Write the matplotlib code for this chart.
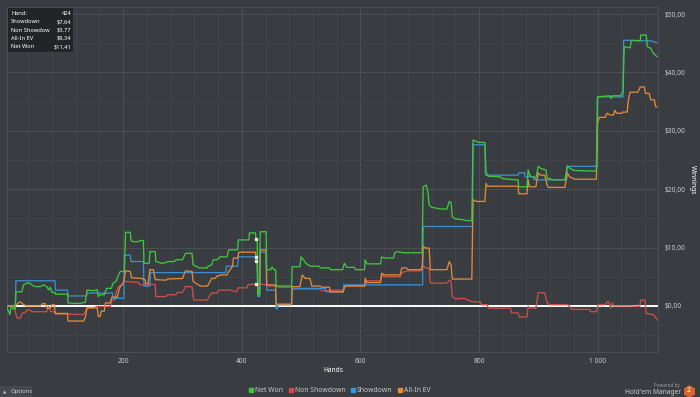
import matplotlib
matplotlib.use("Agg")
import matplotlib.pyplot as plt
from matplotlib.lines import Line2D
from matplotlib.patches import Rectangle
from matplotlib.ticker import MultipleLocator, FixedLocator

# ---------------- data (hand, value) ----------------
net_won_hands = [1, 4, 7, 9, 11, 14, 18, 19, 29, 32, 38, 43, 47, 52, 60, 66, 72, 74, 77, 80, 85, 86, 106, 107,
                 125, 136, 139, 150, 156, 158, 160, 168, 172, 180, 183, 188, 192, 195, 202, 204, 212, 213, 216,
                 226, 228, 234, 235, 244, 245, 254, 255, 265, 272, 275, 286, 289, 300, 305, 316, 318, 325, 328,
                 342, 343, 349, 352, 358, 361, 363, 375, 378, 393, 394, 412, 413, 423, 424, 426, 427, 430, 431,
                 441, 442, 449, 450, 452, 454, 457, 458, 484, 485, 498, 500, 504, 508, 515, 530, 533, 548, 550,
                 570, 573, 577, 590, 592, 607, 608, 611, 634, 636, 640, 656, 658, 663, 668, 672, 704, 706, 711,
                 714, 716, 720, 735, 746, 750, 753, 755, 760, 770, 780, 788, 790, 800, 810, 812, 816, 836, 840,
                 860, 866, 867, 881, 883, 886, 896, 900, 905, 913, 915, 925, 945, 949, 953, 960, 991, 998, 1000,
                 1021, 1023, 1025, 1039, 1043, 1045, 1055, 1057, 1072, 1073, 1082, 1084, 1090, 1094, 1100]
net_won_vals = [0.0, -0.3, -1.0, -1.5, -0.1, -0.5, -0.5, 2.4, 2.4, 3.6, 3.9, 3.9, 3.5, 3.3, 3.3, 3.6, 3.2, 2.7,
                3.2, 2.3, 2.3, 2.0, 2.0, 0.5, 0.4, 0.6, 2.7, 2.6, 2.8, 1.6, 1.9, 1.9, 3.0, 3.0, 3.9, 4.2, 5.3,
                5.9, 5.9, 12.6, 12.6, 11.3, 11.0, 11.0, 11.2, 11.2, 7.3, 7.3, 9.3, 9.3, 7.6, 7.3, 7.4, 7.6, 7.6,
                7.9, 7.9, 9.0, 9.0, 7.0, 6.7, 6.5, 6.5, 6.8, 7.0, 7.9, 7.9, 8.1, 8.4, 8.4, 9.6, 9.6, 11.3, 11.3,
                12.5, 12.5, 11.41, 11.41, 1.9, 1.9, 12.7, 12.7, 6.2, 6.2, 6.6, 6.6, 6.2, 6.2, 3.4, 3.4, 6.7, 6.7,
                8.4, 7.9, 7.3, 6.8, 6.8, 6.5, 6.5, 6.2, 6.2, 7.3, 6.6, 6.6, 6.2, 6.2, 7.9, 7.2, 7.2, 8.4, 8.2,
                8.2, 9.1, 9.3, 9.2, 9.1, 9.1, 20.4, 20.7, 19.5, 17.3, 16.9, 16.6, 16.6, 17.9, 17.7, 15.3, 14.9,
                14.8, 14.6, 14.6, 28.4, 28.0, 28.0, 22.8, 22.2, 22.1, 21.8, 21.6, 21.6, 20.4, 20.4, 23.3, 22.3,
                21.9, 23.9, 23.5, 23.3, 21.9, 21.6, 21.6, 24.0, 23.6, 23.2, 23.1, 23.1, 35.8, 36.0, 35.5, 36.0,
                36.0, 36.7, 44.4, 44.2, 45.5, 45.4, 46.4, 46.4, 44.4, 44.1, 43.3, 42.7]

showdown_hands = [1, 18, 19, 85, 86, 106, 107, 138, 139, 182, 183, 201, 202, 212, 213, 234, 235, 245, 246, 373,
                  374, 393, 394, 423, 424, 426, 427, 430, 431, 441, 442, 457, 458, 460, 461, 484, 485, 541, 542,
                  571, 572, 705, 706, 789, 790, 810, 811, 866, 867, 877, 878, 892, 893, 948, 949, 999, 1000,
                  1043, 1044, 1090, 1100]
showdown_vals = [0.0, 0.0, 4.3, 4.3, 2.7, 2.7, 1.7, 1.7, 2.2, 2.2, 1.3, 1.3, 8.7, 8.7, 7.6, 7.6, 3.4, 3.4, 5.7,
                 5.7, 6.8, 6.8, 8.4, 8.4, 7.64, 7.64, 1.6, 1.6, 9.2, 9.2, 2.7, 2.7, -0.5, -0.5, 0.2, 0.2, 3.0,
                 3.0, 2.4, 2.4, 3.6, 3.6, 13.6, 13.6, 27.6, 27.6, 22.4, 22.4, 22.8, 22.8, 22.1, 22.1, 21.6, 21.6,
                 23.9, 23.9, 35.8, 35.8, 45.5, 45.4, 45.1]

non_showdown_hands = [1, 15, 17, 21, 26, 30, 34, 38, 43, 46, 71, 74, 78, 85, 86, 107, 133, 136, 139, 150, 155,
                      178, 181, 186, 188, 192, 198, 202, 226, 228, 237, 240, 242, 254, 255, 272, 275, 289, 291,
                      300, 305, 316, 318, 319, 342, 345, 349, 358, 361, 380, 391, 394, 409, 410, 424, 443, 445,
                      460, 462, 485, 487, 532, 534, 549, 551, 571, 574, 578, 608, 610, 634, 636, 640, 667, 670,
                      680, 701, 705, 710, 716, 718, 746, 750, 753, 755, 760, 775, 780, 790, 802, 804, 814, 816,
                      853, 855, 866, 868, 881, 883, 886, 896, 900, 911, 915, 920, 950, 957, 987, 988, 998, 1001,
                      1013, 1016, 1019, 1022, 1025, 1027, 1055, 1071, 1073, 1080, 1082, 1094, 1097, 1100]
non_showdown_vals = [0.0, 0.0, -0.6, -2.1, -2.1, -1.2, -1.2, -0.7, -0.7, -1.0, -1.0, -0.1, -1.0, -1.0, -1.4,
                     -1.4, -1.5, -1.0, -0.4, -0.4, -0.1, -0.1, 1.0, 1.0, 2.3, 3.3, 3.6, 4.2, 4.0, 3.6, 3.6, 3.3,
                     3.7, 3.7, 1.6, 1.6, 1.9, 1.9, 2.3, 2.3, 3.3, 3.3, 1.6, 1.0, 1.0, 1.6, 2.2, 2.2, 2.7, 2.7,
                     2.4, 3.1, 3.1, 3.6, 3.77, 3.6, 3.4, 3.4, 3.2, 3.2, 2.9, 2.9, 2.6, 2.6, 2.7, 2.7, 3.3, 3.4,
                     3.4, 4.3, 4.3, 5.3, 5.0, 5.0, 5.7, 6.0, 6.0, 7.0, 6.5, 6.5, 3.9, 3.9, 4.4, 4.2, 1.6, 1.2,
                     1.3, 1.0, 0.7, 0.7, 0.2, 0.2, -0.4, -0.4, -1.2, -1.2, -1.9, -1.9, -0.1, -0.4, -0.4, 2.3,
                     2.2, 0.5, 0.2, 0.2, -0.6, -0.6, -1.0, -1.0, 0.2, 0.2, 0.7, 0.7, -0.4, 0.5, 0.0, 0.0, -0.1,
                     1.0, 1.0, -1.3, -1.5, -1.8, -2.4]

allin_ev_hands = [1, 18, 21, 26, 29, 32, 38, 60, 64, 68, 72, 77, 80, 84, 85, 106, 107, 133, 136, 139, 156, 158,
                  161, 163, 168, 170, 178, 181, 190, 192, 195, 200, 204, 212, 214, 232, 234, 237, 238, 242, 245,
                  251, 254, 272, 275, 300, 305, 316, 318, 322, 330, 342, 345, 349, 355, 358, 366, 375, 378, 384,
                  386, 393, 395, 423, 424, 426, 427, 430, 431, 441, 442, 457, 458, 484, 485, 498, 502, 507, 515,
                  518, 532, 535, 548, 549, 571, 574, 607, 608, 611, 634, 636, 640, 667, 670, 678, 680, 704, 706,
                  710, 716, 718, 746, 750, 753, 755, 788, 790, 795, 810, 812, 814, 866, 867, 881, 883, 885, 896,
                  900, 903, 911, 915, 917, 945, 949, 953, 962, 998, 1000, 1003, 1013, 1016, 1021, 1027, 1029,
                  1032, 1041, 1043, 1050, 1052, 1055, 1068, 1072, 1079, 1081, 1087, 1090, 1096, 1098, 1100]
allin_ev_vals = [0.0, 0.0, 0.3, 0.7, 0.5, 0.2, 0.0, 0.0, 0.4, 0.4, -0.4, -0.4, 0.2, 0.2, -1.3, -1.3, -2.6, -2.6,
                 -2.0, -0.3, -0.3, -1.8, -1.8, -0.9, -0.9, 0.5, 0.5, 1.5, 1.5, 2.4, 3.3, 3.9, 6.0, 5.9, 4.8, 4.7,
                 4.5, 4.5, 3.8, 3.8, 6.2, 6.2, 4.5, 4.4, 4.6, 4.7, 6.0, 5.9, 4.2, 3.9, 3.4, 3.4, 3.9, 4.7, 4.7,
                 5.1, 5.3, 5.3, 5.9, 6.7, 8.2, 8.2, 9.2, 9.2, 8.34, 8.34, 2.2, 2.2, 9.6, 9.6, 3.6, 3.6, 0.3, 0.3,
                 3.3, 3.3, 5.3, 4.7, 4.7, 3.4, 3.4, 3.2, 3.2, 2.4, 2.4, 3.4, 3.4, 4.7, 4.0, 4.0, 5.6, 5.3, 5.3,
                 6.5, 6.5, 6.2, 6.2, 10.2, 9.9, 9.9, 6.2, 6.2, 7.6, 7.0, 4.6, 4.6, 18.2, 17.9, 17.9, 21.0, 20.5,
                 20.5, 19.2, 19.2, 21.6, 20.4, 20.4, 22.8, 22.4, 22.4, 20.7, 20.3, 20.3, 22.8, 22.1, 21.7, 21.7,
                 31.3, 32.3, 32.3, 33.0, 32.7, 32.7, 33.5, 33.0, 33.0, 33.2, 33.2, 35.3, 36.6, 36.6, 37.5, 37.5,
                 36.4, 36.4, 35.3, 35.3, 34.1, 34.1]

series_names = ["Net Won", "Non Showdown", "Showdown", "All-In EV"]
x_ticks = [200, 400, 600, 800, 1000]
x_tick_labels = ["200", "400", "600", "800", "1 000"]
y_ticks = [0, 10, 20, 30, 40, 50]
y_tick_labels = ["$0,00", "$10,00", "$20,00", "$30,00", "$40,00", "$50,00"]

hover_hand = 424
hover_labels = ["Hand:", "Showdown", "Non Showdow", "All-In EV", "Net Won"]
hover_values = ["424", "$7,64", "$3,77", "$8,34", "$11,41"]
hover_points = [11.41, 7.64, 3.77, 8.34]

# ---------------- style ----------------
BG = "#393c40"
GRID_MINOR = "#414448"
GRID_MAJOR = "#4b4f53"
TXT = "#c9cbcd"
C_NET = "#3fc63f"
C_NSD = "#c9504b"
C_SD = "#3a8ed0"
C_EV = "#e08a3a"
FONT = ["Noto Sans", "DejaVu Sans"]

plt.rcParams["font.family"] = FONT
W, H = 700, 397
fig = plt.figure(figsize=(W / 100, H / 100), dpi=100, facecolor=BG)
L, R, T, B = 7, 658, 7, 352
ax = fig.add_axes([L / W, 1 - B / H, (R - L) / W, (B - T) / H], facecolor=BG)

ax.set_xlim(4, 1102)
ax.set_ylim(-7.9, 51.2)

ax.xaxis.set_major_locator(FixedLocator(x_ticks))
ax.xaxis.set_minor_locator(MultipleLocator(40))
ax.yaxis.set_major_locator(FixedLocator(y_ticks))
ax.yaxis.set_minor_locator(MultipleLocator(5))
ax.grid(which="minor", color=GRID_MINOR, lw=0.7)
ax.grid(which="major", color=GRID_MAJOR, lw=0.8)
ax.set_axisbelow(True)
ax.set_xticklabels(x_tick_labels)
ax.yaxis.tick_right()
ax.set_yticklabels(y_tick_labels)
ax.tick_params(which="both", length=0, colors=TXT, labelsize=4.8)
ax.tick_params(axis="x", pad=4)
ax.tick_params(axis="y", pad=5)
for s in ax.spines.values():
    s.set_color(GRID_MAJOR)
    s.set_linewidth(0.8)

ax.axhline(0, color="white", lw=1.4, zorder=2)

lw = 0.95
ax.plot(non_showdown_hands, non_showdown_vals, color=C_NSD, lw=lw, zorder=3)
ax.plot(showdown_hands, showdown_vals, color=C_SD, lw=lw, zorder=4)
ax.plot(allin_ev_hands, allin_ev_vals, color=C_EV, lw=lw, zorder=5)
ax.plot(net_won_hands, net_won_vals, color=C_NET, lw=lw, zorder=6)

ax.plot([hover_hand] * len(hover_points), hover_points, ls="none", marker="s", ms=1.8,
        color="#e8e8e8", zorder=7)

# axis titles
fig.text(333 / W, 1 - 371 / H, "Hands", color="white", fontsize=4.8, fontweight="bold",
         ha="center", va="center")
fig.text(692 / W, 1 - 180 / H, "Winnings", color="white", fontsize=4.8, fontweight="bold",
         ha="center", va="center", rotation=-90)

# legend
handles = [Line2D([], [], ls="none", marker="s", ms=2.6, color=c) for c in (C_NET, "#e04848", "#3399dd", "#ee8833")]
fig.legend(handles, series_names, loc="center", bbox_to_anchor=(340 / W, 1 - 391 / H), ncol=4,
           frameon=False, fontsize=4.9, labelcolor=TXT, handlelength=0.6, handletextpad=0.3,
           columnspacing=0.8, borderpad=0)

# hover tooltip
fig.patches.append(Rectangle((8 / W, 1 - 52 / H), 65 / W, 44 / H, transform=fig.transFigure,
                             facecolor="#222528", edgecolor="none", zorder=10))
for i, (lab, val) in enumerate(zip(hover_labels, hover_values)):
    yy = 1 - (13.5 + i * 8.3) / H
    fig.text(11 / W, yy, lab, color="white", fontsize=4.1, fontweight="bold", ha="left", va="center", zorder=11)
    fig.text(71.5 / W, yy, val, color="white", fontsize=4.1, fontweight="bold", ha="right", va="center", zorder=11)

# options button
fig.patches.append(Rectangle((0, 0), 32 / W, 11 / H, transform=fig.transFigure,
                             facecolor="#45494d", edgecolor="none"))
fig.text(3 / W, 1 - 392 / H, "\u25b2", color=TXT, fontsize=3, ha="left", va="center",
         family=["DejaVu Sans"])
fig.text(11 / W, 1 - 392 / H, "Options", color=TXT, fontsize=4.3, ha="left", va="center")

# branding
fig.text(680 / W, 1 - 385 / H, "Powered by", color="#9a9c9e", fontsize=3.4, ha="right", va="center")
fig.text(681 / W, 1 - 392 / H, "Hold'em Manager", color=TXT, fontsize=4.8, ha="right", va="center")
fig.add_artist(Line2D([689 / W], [1 - 391 / H], marker="h", ms=8, color="#d8642c",
                      transform=fig.transFigure))
fig.text(689 / W, 1 - 391 / H, "2", color="white", fontsize=5, fontweight="bold",
         ha="center", va="center")

fig.savefig("out.png", dpi=100, facecolor=BG)
